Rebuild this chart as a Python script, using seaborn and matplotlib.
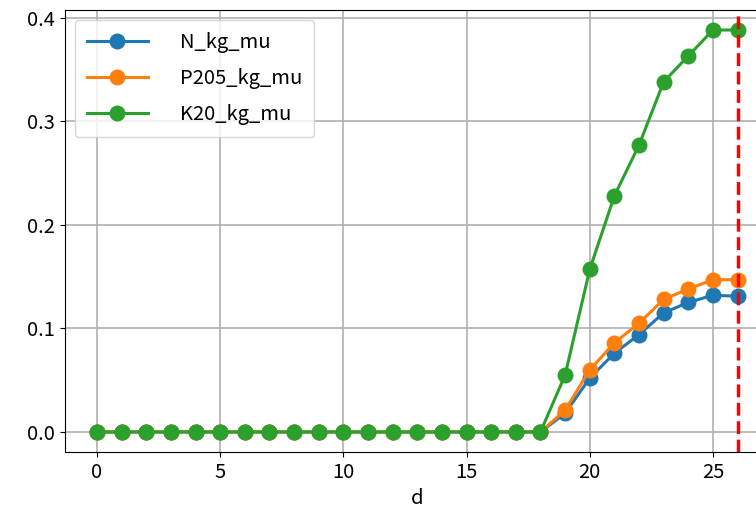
import matplotlib
matplotlib.use("Agg")
import matplotlib.pyplot as plt
import matplotlib.ticker as ticker
import numpy as np
import pandas as pd
import seaborn as sns

plt.rcParams['font.family'] = ['Noto Sans CJK JP', 'DejaVu Sans']
plt.rcParams['font.size'] = 14.5

days = list(range(27))
n_kg = [0.0] * 19 + [0.018, 0.052, 0.076, 0.094, 0.115, 0.125, 0.132, 0.131]
p_kg = [0.0] * 19 + [0.021, 0.060, 0.086, 0.105, 0.128, 0.138, 0.147, 0.147]
k_kg = [0.0] * 19 + [0.055, 0.157, 0.228, 0.277, 0.338, 0.363, 0.388, 0.388]
series = ["N_kg_mu", "P205_kg_mu", "K20_kg_mu"]
harvest_day = 26

df = pd.DataFrame({"d": days, "N_kg_mu": n_kg, "P205_kg_mu": p_kg, "K20_kg_mu": k_kg})
long = df.melt(id_vars="d", value_vars=series, var_name="series", value_name="kg")

fig = plt.figure(figsize=(7.56, 5.22), dpi=100)
ax = fig.add_axes([0.086, 0.134, 0.932, 0.847])

sns.lineplot(data=long, x="d", y="kg", hue="series", hue_order=series,
             palette=["#1f77b4", "#ff7f0e", "#2ca02c"], marker="o",
             markersize=11.5, markeredgewidth=0, linewidth=2.2, ax=ax)
ax.axvline(harvest_day, color="red", linestyle="--", linewidth=2.5)

ax.yaxis.set_major_locator(ticker.MultipleLocator(0.1))
ax.yaxis.set_major_formatter(ticker.FormatStrFormatter("%.1f"))
ax.grid(True, color="#b0b0b0", linewidth=1.2)
ax.set_axisbelow(True)
ax.set_ylabel("")
ax.set_xlabel("d")
ax.spines["right"].set_visible(False)
ax.legend(loc="upper left", handlelength=3.0, handletextpad=1.6, borderpad=0.6,
          labelspacing=0.75, framealpha=0.8)

fig.savefig("out.png", dpi=100)
